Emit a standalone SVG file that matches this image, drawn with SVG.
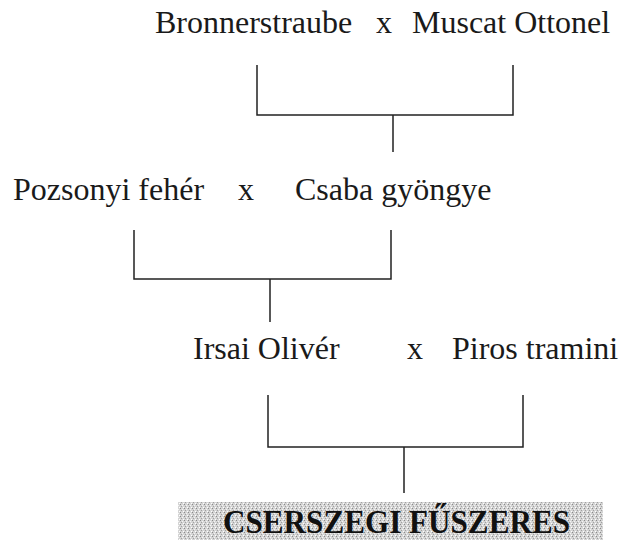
<svg xmlns="http://www.w3.org/2000/svg" width="620" height="547" viewBox="0 0 620 547">
<defs>
<pattern id="speckle" width="4" height="4" patternUnits="userSpaceOnUse">
<rect width="4" height="4" fill="#d4d4d4"/>
<rect x="0" y="0" width="1" height="1" fill="#8a8a8a"/>
<rect x="2" y="1" width="1" height="1" fill="#f4f4f4"/>
<rect x="1" y="2" width="1" height="1" fill="#a0a0a0"/>
<rect x="3" y="3" width="1" height="1" fill="#ffffff"/>
</pattern>
</defs>
<style>
.t{font-family:"Liberation Serif","Times New Roman",serif;font-size:32px;fill:#1a1a1a}
.b{font-family:"Liberation Serif","Times New Roman",serif;font-size:34px;font-weight:bold;fill:#111}
.c{fill:none;stroke:#222;stroke-width:1.5}
</style>
<rect width="620" height="547" fill="#ffffff"/>
<g id="bronnerstraube"><text class="t" x="155" y="33">Bronnerstraube</text></g>
<g id="cross1"><text class="t" x="376" y="33">x</text></g>
<g id="muscat-ottonel"><text class="t" x="412" y="33">Muscat Ottonel</text></g>
<g id="pozsonyi-feher"><text class="t" x="13" y="200">Pozsonyi fehér</text></g>
<g id="cross2"><text class="t" x="238" y="200">x</text></g>
<g id="csaba-gyongye"><text class="t" x="295" y="200">Csaba gyöngye</text></g>
<g id="irsai-oliver"><text class="t" x="193" y="359">Irsai Olivér</text></g>
<g id="cross3"><text class="t" x="407" y="359">x</text></g>
<g id="piros-tramini"><text class="t" x="452" y="359">Piros tramini</text></g>
<g id="cserszegi-fuszeres">
<rect x="178" y="502" width="425" height="38" fill="url(#speckle)"/>
<text class="b" x="223" y="533" textLength="347" lengthAdjust="spacingAndGlyphs">CSERSZEGI FŰSZERES</text>
</g>
<g id="connectors">
<path class="c" d="M257 65 V115 H513 V65 M393 115 V152"/>
<path class="c" d="M134 230 V279 H391 V230 M270 279 V322"/>
<path class="c" d="M268 395 V447 H523 V395 M404 447 V493"/>
</g>
</svg>
